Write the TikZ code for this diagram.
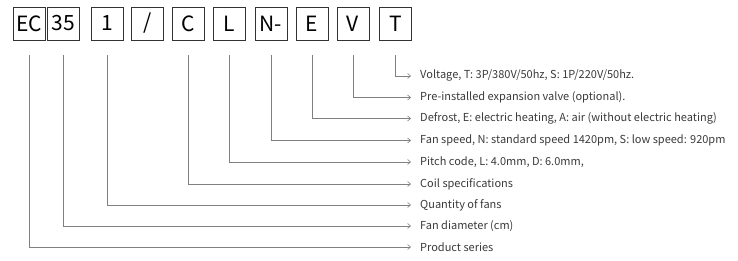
\documentclass[tikz,border=0pt]{standalone}
\usepackage{fontspec}
\setmainfont{Noto Sans CJK SC}
\usetikzlibrary{arrows.meta}
\definecolor{linegray}{HTML}{808080}
\definecolor{textgray}{HTML}{3A3A3A}

\begin{document}
\begin{tikzpicture}[x=1pt,y=-1pt,
  codebox/.style={draw=black!80,line width=0.6pt,minimum width=32pt,minimum height=33pt,inner sep=0pt,font=\fontsize{21}{23}\selectfont},
  lbl/.style={anchor=west,inner sep=0pt,text=textgray,font=\fontsize{11}{13}\selectfont},
  conn/.style={draw=linegray,line width=0.6pt,-{Straight Barb[length=3pt,width=5pt]},shorten >=9pt}]
\useasboundingbox (0,0) rectangle (738,261);
% code boxes
\node[codebox] (ec) at (29,23.5) {EC};
\node[codebox] (dia) at (63,23.5) {35};
\node[codebox] (qty) at (107,23.5) {1};
\node[codebox] (sl) at (147.5,23.5) {/};
\node[codebox] (coil) at (188.5,23.5) {C};
\node[codebox] (pitch) at (229,23.5) {L};
\node[codebox] (fan) at (271,23.5) {N-};
\node[codebox] (def) at (312,23.5) {E};
\node[codebox] (valve) at (353,23.5) {V};
\node[codebox] (volt) at (395.5,23.5) {T};
% labels
\node[lbl] (lvolt) at (420,76) {Voltage, T: 3P/380V/50hz, S: 1P/220V/50hz.};
\node[lbl] (lvalve) at (420,97.5) {Pre-installed expansion valve (optional).};
\node[lbl] (ldef) at (420,118.5) {Defrost, E: electric heating, A: air (without electric heating)};
\node[lbl] (lfan) at (420,140.5) {Fan speed, N: standard speed 1420pm, S: low speed: 920pm};
\node[lbl] (lpitch) at (420,162) {Pitch code, L: 4.0mm, D: 6.0mm,};
\node[lbl] (lcoil) at (420,184) {Coil specifications};
\node[lbl] (lqty) at (420,205) {Quantity of fans};
\node[lbl] (ldia) at (420,226) {Fan diameter (cm)};
\node[lbl] (lec) at (420,247) {Product series};
% connectors
\draw[conn] ([yshift=-15pt]volt.south) |- (lvolt.west);
\draw[conn] ([yshift=-15pt]valve.south) |- (lvalve.west);
\draw[conn] ([yshift=-15pt]def.south) |- (ldef.west);
\draw[conn] ([yshift=-15pt]fan.south) |- (lfan.west);
\draw[conn] ([yshift=-15pt]pitch.south) |- (lpitch.west);
\draw[conn] ([yshift=-15pt]coil.south) |- (lcoil.west);
\draw[conn] ([yshift=-15pt]qty.south) |- (lqty.west);
\draw[conn] ([yshift=-15pt]dia.south) |- (ldia.west);
\draw[conn] ([yshift=-15pt]ec.south) |- (lec.west);
\end{tikzpicture}
\end{document}
